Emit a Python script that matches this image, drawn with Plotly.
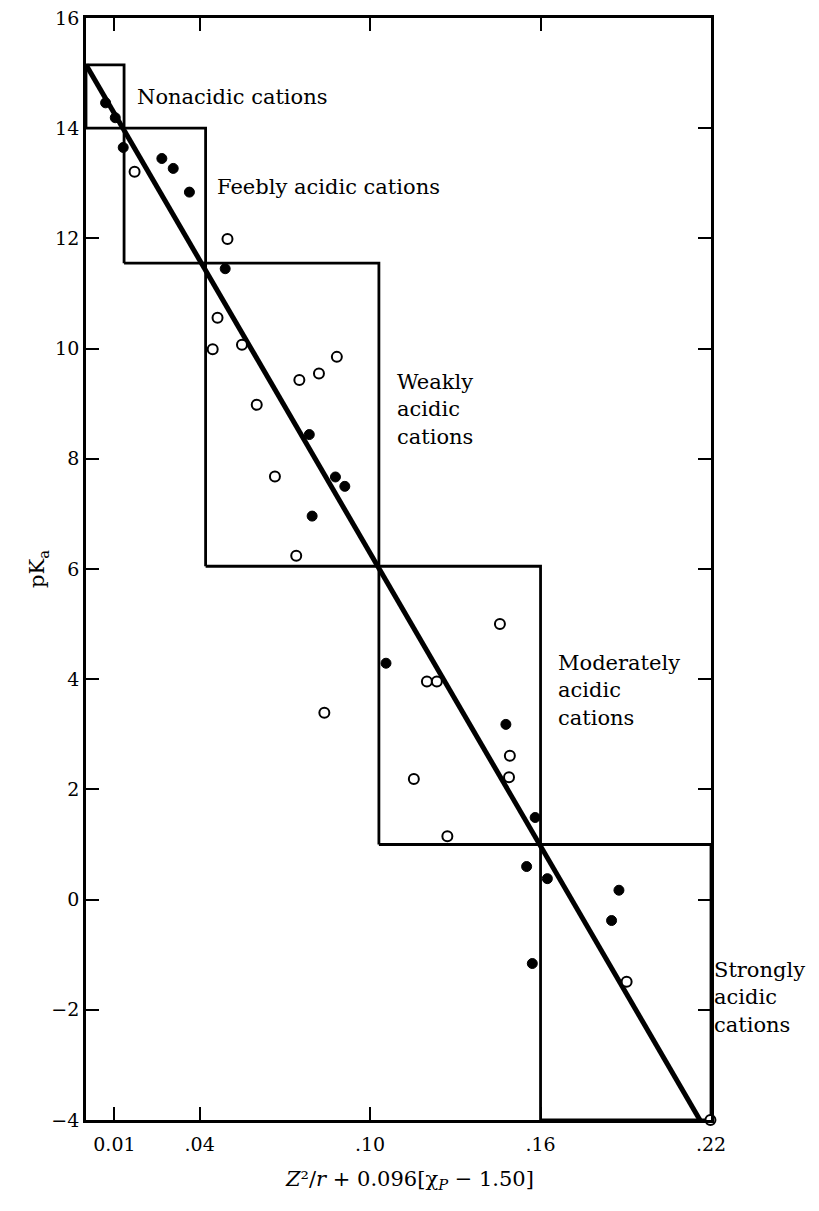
import plotly.graph_objects as go

# Boundaries of the acidity classes (corners of the step boxes)
bound_x = [0.0, 0.0134, 0.0421, 0.1031, 0.160, 0.22]
bound_y = [15.15, 14.0, 11.55, 6.05, 1.0, -4.0]
class_names = ["Nonacidic cations", "Feebly acidic cations",
               "Weakly<br>acidic<br>cations", "Moderately<br>acidic<br>cations",
               "Strongly<br>acidic<br>cations"]
label_x = [0.0174, 0.0454, 0.1088, 0.1656, 0.2202]
label_y = [14.57, 12.93, 8.90, 3.80, -1.77]

# Regression line end points
fit_x = [0.0, 0.2161]
fit_y = [15.15, -4.0]

# Filled circles
filled_x = [0.0069, 0.0103, 0.0131, 0.0267, 0.0307, 0.0364, 0.0490, 0.0786,
            0.0878, 0.0911, 0.0796, 0.1056, 0.1478, 0.1581, 0.1551, 0.1624,
            0.1876, 0.1850, 0.1571]
filled_y = [14.46, 14.19, 13.65, 13.45, 13.27, 12.84, 11.45, 8.44,
            7.67, 7.50, 6.96, 4.29, 3.18, 1.49, 0.60, 0.38,
            0.17, -0.38, -1.16]

# Open circles
open_x = [0.0171, 0.0498, 0.0463, 0.0446, 0.0549, 0.0883, 0.0820, 0.0751,
          0.0601, 0.0665, 0.0740, 0.1457, 0.1200, 0.1235, 0.0839, 0.1492,
          0.1489, 0.1154, 0.1272, 0.2227, 0.1903, 0.2198]
open_y = [13.21, 11.99, 10.56, 9.99, 10.07, 9.85, 9.55, 9.43,
          8.98, 7.68, 6.24, 5.00, 3.96, 3.96, 3.39, 2.61,
          2.22, 2.19, 1.15, -0.61, -1.49, -4.00]

x_tickvals = [0.01, 0.04, 0.10, 0.16, 0.22]
x_ticktext = ["0.01", ".04", ".10", ".16", ".22"]
y_tickvals = list(range(-4, 17, 2))
X_RANGE = [0, 0.22]
Y_RANGE = [-4, 16]
X_TITLE = "<i>Z</i>²/<i>r</i> + 0.096[χ<sub><i>P</i></sub> − 1.50]"

FONT = "DejaVu Serif"

fig = go.Figure()

# class boxes
for i in range(len(class_names)):
    x0, x1 = bound_x[i], bound_x[i + 1]
    y0, y1 = bound_y[i + 1], bound_y[i]
    fig.add_trace(go.Scatter(
        x=[x0, x1, x1, x0, x0], y=[y0, y0, y1, y1, y0],
        mode="lines", line=dict(color="black", width=2.8),
        hoverinfo="skip", showlegend=False, cliponaxis=False))

# regression line
fig.add_trace(go.Scatter(x=fit_x, y=fit_y, mode="lines",
                         line=dict(color="black", width=5),
                         showlegend=False, cliponaxis=False))

fig.add_trace(go.Scatter(x=filled_x, y=filled_y, mode="markers",
                         marker=dict(size=10, color="black",
                                     line=dict(color="black", width=1)),
                         showlegend=False, cliponaxis=False))
fig.add_trace(go.Scatter(x=open_x, y=open_y, mode="markers",
                         marker=dict(size=10, color="white",
                                     line=dict(color="black", width=2)),
                         showlegend=False, cliponaxis=False))

# class labels (placed in paper coordinates so the one beyond the axis shows)
for name, lx, ly in zip(class_names, label_x, label_y):
    px = (lx - X_RANGE[0]) / (X_RANGE[1] - X_RANGE[0])
    py = (ly - Y_RANGE[0]) / (Y_RANGE[1] - Y_RANGE[0])
    fig.add_annotation(x=px, y=py, xref="paper", yref="paper", text=name,
                       showarrow=False, xanchor="left", yanchor="middle",
                       align="left",
                       font=dict(family=FONT, size=21, color="black"))

# x-axis title, set slightly right of centre as in the original
fig.add_annotation(x=0.518, y=-0.054, xref="paper", yref="paper",
                   text=X_TITLE, showarrow=False, xanchor="center",
                   yanchor="middle",
                   font=dict(family=FONT, size=21, color="black"))

axis_common = dict(showline=True, linecolor="black", linewidth=2.8,
                   mirror="ticks", ticks="inside", ticklen=13, tickwidth=2,
                   tickcolor="black", showgrid=False, zeroline=False,
                   ticklabeloverflow="allow",
                   tickfont=dict(family=FONT, size=19, color="black"))

fig.update_xaxes(range=X_RANGE, tickvals=x_tickvals, ticktext=x_ticktext,
                 ticklabelstandoff=5, **axis_common)
fig.update_yaxes(range=Y_RANGE, tickvals=y_tickvals,
                 title=dict(text="pK<sub>a</sub>",
                            font=dict(family=FONT, size=21, color="black"),
                            standoff=1),
                 **axis_common)

fig.update_layout(width=811, height=1203,
                  margin=dict(l=78, r=108, t=10, b=91, autoexpand=False),
                  paper_bgcolor="white", plot_bgcolor="white",
                  showlegend=False)

fig.write_html("out.html")
